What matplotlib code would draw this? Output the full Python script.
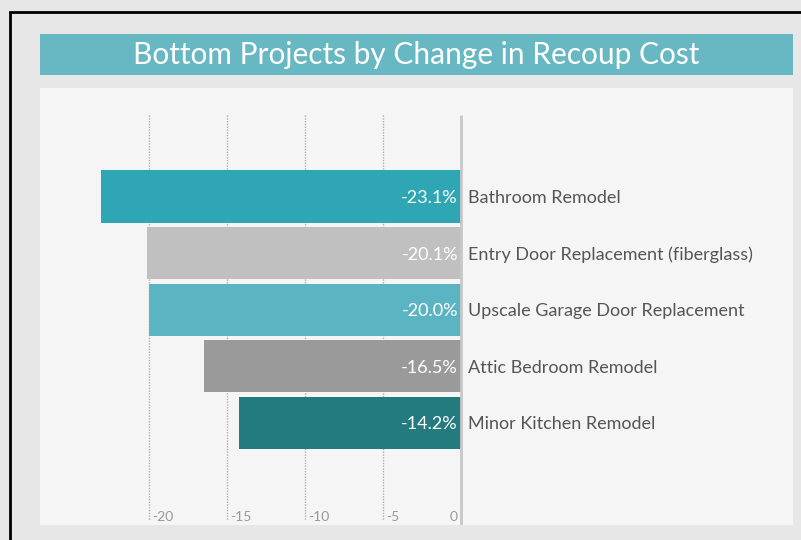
import matplotlib
matplotlib.use("Agg")
import matplotlib.pyplot as plt
from matplotlib.patches import Rectangle

projects = ["Bathroom Remodel", "Entry Door Replacement (fiberglass)",
            "Upscale Garage Door Replacement", "Attic Bedroom Remodel",
            "Minor Kitchen Remodel"]
change = [-23.1, -20.1, -20.0, -16.5, -14.2]
bar_colors = ["#2ea6b3", "#c0c0c0", "#5bb4c2", "#9a9a9a", "#237b80"]
ticks = [-20, -15, -10, -5, 0]

plt.rcParams['font.family'] = ['Lato', 'DejaVu Sans']

W, H = 801, 540
fig = plt.figure(figsize=(W / 100, H / 100), dpi=100)
fig.patch.set_facecolor("#e7e7e7")

def px(x0, y0, x1, y1):
    return [x0 / W, 1 - y1 / H, (x1 - x0) / W, (y1 - y0) / H]

# outer frame
fig.patches.append(Rectangle((10 / W, -0.1), 1.2, 1 - 12 / H + 0.1, transform=fig.transFigure,
                             fill=False, edgecolor="black", linewidth=2))
# title band
fig.patches.append(Rectangle((40 / W, 1 - 75 / H), (793 - 40) / W, 41 / H,
                             transform=fig.transFigure, facecolor="#67b8c2", edgecolor="none"))
fig.text(416 / W, 1 - 55 / H, "Bottom Projects by Change in Recoup Cost", color="white",
         fontsize=21.5, ha="center", va="center")

ax = fig.add_axes(px(40, 88, 793, 525))
ax.set_facecolor("#f5f5f5")
for s in ax.spines.values():
    s.set_visible(False)

scale = 15.6  # px per unit
ax.set_xlim(-(461 - 40) / scale, (793 - 461) / scale)
step = 56.6
ax.set_ylim((525 - 196.5) / step, (88 - 196.5) / step)

for t in ticks[:-1]:
    ax.vlines(t, (115 - 196.5) / step, (520 - 196.5) / step, colors="#b0b0b0",
              linestyles=(0, (1, 1)), linewidth=1, zorder=1)
ax.vlines(0, (115 - 196.5) / step, (525 - 196.5) / step, colors="#c8c8c8", linewidth=2, zorder=3)

ypos = list(range(len(projects)))
ax.barh(ypos, change, height=0.92, color=bar_colors, zorder=2)

dy = 1.5 / step
for y, v, name in zip(ypos, change, projects):
    ax.text(-0.2, y + dy, f"{v:.1f}%", color="white", fontsize=13, ha="right", va="center", zorder=4)
    ax.text(0.45, y + dy, name, color="#555555", fontsize=13, ha="left", va="center", zorder=4)

for t in ticks:
    if t == 0:
        ax.text(t - 0.2, (517 - 196.5) / step, "0", color="#999999", fontsize=10,
                ha="right", va="center")
    else:
        ax.text(t + 0.2, (517 - 196.5) / step, str(t), color="#999999", fontsize=10,
                ha="left", va="center")

ax.set_xticks([])
ax.set_yticks([])

fig.savefig("out.png", dpi=100, facecolor=fig.get_facecolor())
